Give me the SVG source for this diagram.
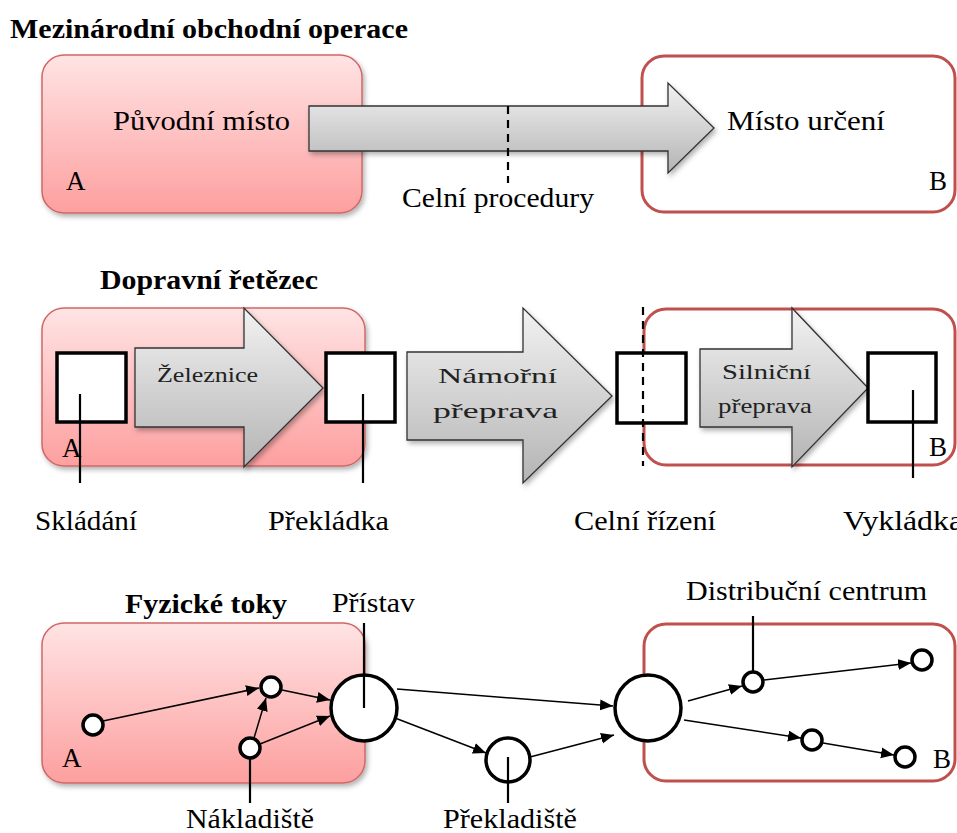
<svg xmlns="http://www.w3.org/2000/svg" width="957" height="833" viewBox="0 0 957 833">
<defs>
<linearGradient id="pink" x1="0" y1="0" x2="0" y2="1">
<stop offset="0" stop-color="#ffe4e4"/>
<stop offset="1" stop-color="#fd9f9f"/>
</linearGradient>
<linearGradient id="gray" x1="0" y1="0" x2="0" y2="1">
<stop offset="0" stop-color="#f2f2f2"/>
<stop offset="1" stop-color="#b4b4b4"/>
</linearGradient>
<filter id="sh" x="-10%" y="-10%" width="125%" height="130%">
<feDropShadow dx="2" dy="3" stdDeviation="2.5" flood-color="#000" flood-opacity="0.3"/>
</filter>
<marker id="ah" markerUnits="userSpaceOnUse" markerWidth="14" markerHeight="12" refX="13" refY="5.5" orient="auto">
<path d="M0,0 L13,5.5 L0,11 z" fill="#000"/>
</marker>
</defs>
<style>
text{font-family:"Liberation Serif","Times New Roman",serif;fill:#000;font-size:27px}
.b{font-weight:bold}
.in{font-size:22px;fill:#222}
.pinkbox{fill:url(#pink);stroke:#d06868;stroke-width:1.5;filter:url(#sh)}
.redbox{fill:#fff;stroke:#c0504d;stroke-width:3}
.arr{fill:url(#gray);stroke:#333;stroke-width:1.3;filter:url(#sh)}
.sq{fill:#fff;stroke:#000;stroke-width:3.5}
.nd{fill:#fff;stroke:#000;stroke-width:3.5}
.lead{stroke:#000;stroke-width:2.2;fill:none}
.dash{stroke:#000;stroke-width:2.2;stroke-dasharray:8,6;fill:none}
.con{stroke:#000;stroke-width:1.5;fill:none;marker-end:url(#ah)}
</style>

<!-- Section 1 -->
<text class="b" x="10" y="38" font-size="27" textLength="398" lengthAdjust="spacingAndGlyphs">Mezinárodní obchodní operace</text>
<g id="origin1">
<rect class="pinkbox" x="42" y="55" width="320" height="158" rx="22"/>
<text x="113" y="130" textLength="177" lengthAdjust="spacingAndGlyphs">Původní místo</text>
<text x="66" y="190">A</text>
</g>
<g id="dest1">
<rect class="redbox" x="642" y="56" width="313" height="156" rx="22"/>
<text x="727" y="130" textLength="158" lengthAdjust="spacingAndGlyphs">Místo určení</text>
<text x="929" y="190">B</text>
</g>
<g id="flow1">
<polygon class="arr" points="309,106 668,106 668,83 714,128 668,173 668,151 309,151"/>
</g>
<g id="customs1">
<line class="dash" x1="508" y1="106" x2="508" y2="183"/>
<text x="402" y="207" textLength="192" lengthAdjust="spacingAndGlyphs">Celní procedury</text>
</g>

<!-- Section 2 -->
<text class="b" x="100" y="289" textLength="218" lengthAdjust="spacingAndGlyphs">Dopravní řetězec</text>
<g id="origin2">
<rect class="pinkbox" x="42" y="308" width="323" height="158" rx="22"/>
<text x="62" y="457">A</text>
</g>
<g id="dest2">
<rect class="redbox" x="644" y="309" width="311" height="156" rx="22"/>
<text x="929" y="456">B</text>
</g>
<g id="rail">
<polygon class="arr" points="135,348 244,348 244,308 323,388 244,467 244,427 135,427"/>
<text class="in" x="157" y="382" textLength="101" lengthAdjust="spacingAndGlyphs">Železnice</text>
</g>
<g id="sea">
<polygon class="arr" points="407,352 523,352 523,308 612,396 523,483 523,440 407,440"/>
<text class="in" x="438" y="383" font-size="24" textLength="119" lengthAdjust="spacingAndGlyphs">Námořní</text>
<text class="in" x="433" y="418" font-size="24" textLength="125" lengthAdjust="spacingAndGlyphs">přeprava</text>
</g>
<g id="road">
<polygon class="arr" points="700,349 792,349 792,308 868,388 792,467 792,427 700,427"/>
<text class="in" x="722" y="379" font-size="21" textLength="89" lengthAdjust="spacingAndGlyphs">Silniční</text>
<text class="in" x="718" y="413" font-size="21" textLength="94" lengthAdjust="spacingAndGlyphs">přeprava</text>
</g>
<g id="loading">
<rect class="sq" x="57" y="353" width="69" height="69"/>
<line class="lead" x1="80" y1="394" x2="80" y2="483"/>
<text x="35" y="530" textLength="102" lengthAdjust="spacingAndGlyphs">Skládání</text>
</g>
<g id="transship">
<rect class="sq" x="326" y="353" width="69" height="69"/>
<line class="lead" x1="363" y1="394" x2="363" y2="483"/>
<text x="268" y="530" textLength="121" lengthAdjust="spacingAndGlyphs">Překládka</text>
</g>
<g id="customs2">
<rect class="sq" x="617" y="353" width="69" height="70"/>
<line class="dash" x1="643" y1="307" x2="643" y2="466"/>
<text x="574" y="530" textLength="142" lengthAdjust="spacingAndGlyphs">Celní řízení</text>
</g>
<g id="unloading">
<rect class="sq" x="868" y="353" width="68" height="69"/>
<line class="lead" x1="913" y1="390" x2="913" y2="478"/>
<text x="843" y="530" textLength="120" lengthAdjust="spacingAndGlyphs">Vykládka</text>
</g>

<!-- Section 3 -->
<text class="b" x="125" y="613" textLength="162" lengthAdjust="spacingAndGlyphs">Fyzické toky</text>
<g id="origin3">
<rect class="pinkbox" x="42" y="623" width="323" height="160" rx="22"/>
<text x="62" y="767">A</text>
</g>
<g id="dest3">
<rect class="redbox" x="644" y="624" width="311" height="157" rx="22"/>
<text x="933" y="768">B</text>
</g>

<g id="connectors">
<line class="con" x1="103" y1="721" x2="259" y2="688"/>
<line class="con" x1="282" y1="690" x2="330" y2="700"/>
<line class="con" x1="254" y1="738" x2="266" y2="698"/>
<line class="con" x1="260" y1="744" x2="330" y2="716"/>
<line class="con" x1="397" y1="689" x2="613" y2="706"/>
<line class="con" x1="395" y1="718" x2="486" y2="753"/>
<line class="con" x1="530" y1="757" x2="614" y2="735"/>
<line class="con" x1="688" y1="701" x2="742" y2="686"/>
<line class="con" x1="764" y1="680" x2="911" y2="663"/>
<line class="con" x1="684" y1="720" x2="801" y2="738"/>
<line class="con" x1="823" y1="743" x2="894" y2="755"/>
</g>

<g id="n1"><circle class="nd" cx="93" cy="725" r="10"/></g>
<g id="n2"><circle class="nd" cx="271" cy="687" r="10"/></g>
<g id="nakladiste">
<circle class="nd" cx="250" cy="748" r="10"/>
<line class="lead" x1="250" y1="758" x2="250" y2="803"/>
<text x="186" y="828" textLength="128" lengthAdjust="spacingAndGlyphs">Nákladiště</text>
</g>
<g id="pristav">
<circle class="nd" cx="364" cy="708" r="33"/>
<line class="lead" x1="364" y1="623" x2="364" y2="708"/>
<text x="332" y="612" textLength="83" lengthAdjust="spacingAndGlyphs">Přístav</text>
</g>
<g id="prekladiste">
<circle class="nd" cx="508" cy="760" r="22"/>
<line class="lead" x1="508" y1="757" x2="508" y2="803"/>
<text x="443" y="828" textLength="134" lengthAdjust="spacingAndGlyphs">Překladiště</text>
</g>
<g id="hubB"><circle class="nd" cx="648" cy="708" r="33"/></g>
<g id="dc">
<circle class="nd" cx="753" cy="682" r="10"/>
<line class="lead" x1="753" y1="616" x2="753" y2="672"/>
<text x="686" y="600" textLength="241" lengthAdjust="spacingAndGlyphs">Distribuční centrum</text>
</g>
<g id="n5"><circle class="nd" cx="922" cy="660" r="10"/></g>
<g id="n6"><circle class="nd" cx="812" cy="740" r="10"/></g>
<g id="n7"><circle class="nd" cx="905" cy="757" r="10"/></g>
</svg>
